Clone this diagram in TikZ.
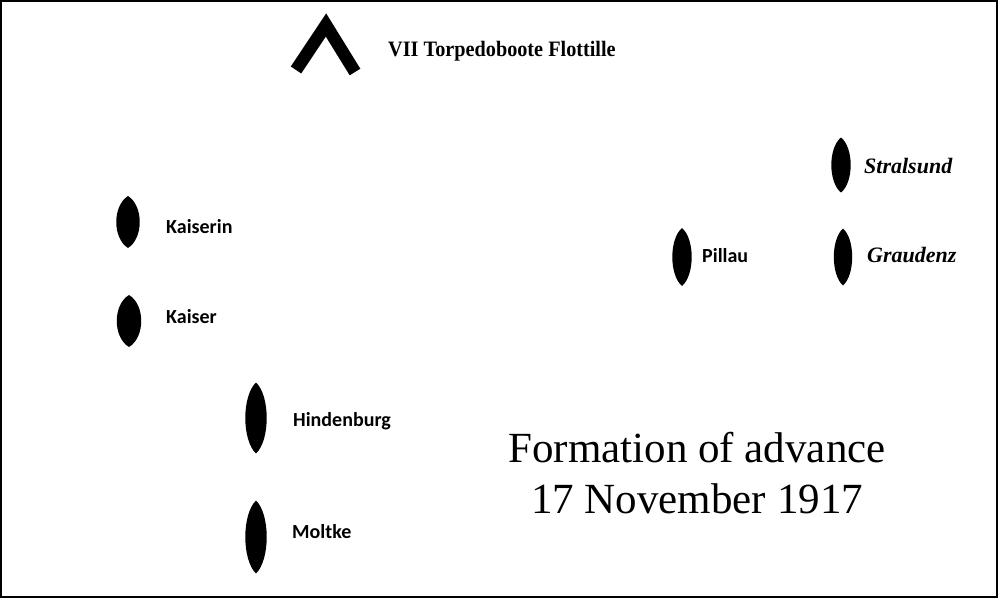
\documentclass[tikz,border=0pt]{standalone}
\usepackage{fontspec}
\setmainfont{Liberation Serif}
\newfontfamily\lblfont{Carlito}
\newcommand\shipshape[4]{\fill (#1,#2-#4/2) .. controls (#1+0.68*#3,#2-#4/3.2) and (#1+0.68*#3,#2+#4/3.2) .. (#1,#2+#4/2) .. controls (#1-0.68*#3,#2+#4/3.2) and (#1-0.68*#3,#2-#4/3.2) .. cycle;}
\tikzset{
  shiplbl/.style={anchor=base west, inner sep=0pt, font=\lblfont\bfseries\fontsize{20}{24}\selectfont},
  cruiserlbl/.style={anchor=base west, inner sep=0pt, font=\bfseries\itshape\fontsize{22}{26}\selectfont},
  titlelbl/.style={anchor=base, inner sep=0pt, font=\fontsize{43}{50}\selectfont},
}
\begin{document}
\begin{tikzpicture}[x=1pt,y=-1pt]
\useasboundingbox (0,0) rectangle (1000,599);
\fill[white] (0,0) rectangle (1000,599);
\draw[line width=2pt] (1,1) rectangle (997,597);
% chevron (torpedo boat flotilla)
\draw[line width=12.5pt, line join=miter] (296,70) -- (326,25) -- (355,72);
\node[anchor=base west, inner sep=0pt, font=\bfseries\fontsize{22}{26}\selectfont] (flot) at (388,57) {\scalebox{0.92}[1]{VII Torpedoboote Flottille}};
% battleships
\shipshape{128}{222}{23}{52}
\node[shiplbl] (kaiserin) at (166,233) {Kaiserin};
\shipshape{129}{321}{24}{52}
\node[shiplbl] (kaiser) at (166,323) {Kaiser};
\shipshape{256}{418}{21}{71}
\node[shiplbl] (hindenburg) at (293,426) {Hindenburg};
\shipshape{256}{537}{21}{73}
\node[shiplbl] (moltke) at (292,538) {Moltke};
% cruisers
\shipshape{682}{257}{19}{58}
\node[shiplbl] (pillau) at (702,262) {Pillau};
\shipshape{841}{165}{19}{55}
\node[cruiserlbl] (stralsund) at (864,173) {Stralsund};
\shipshape{843}{257}{18}{57}
\node[cruiserlbl] (graudenz) at (867,262) {Graudenz};
% title
\node[titlelbl] (title1) at (697,462) {Formation of advance};
\node[titlelbl] (title2) at (697,513) {17 November 1917};
\end{tikzpicture}
\end{document}
